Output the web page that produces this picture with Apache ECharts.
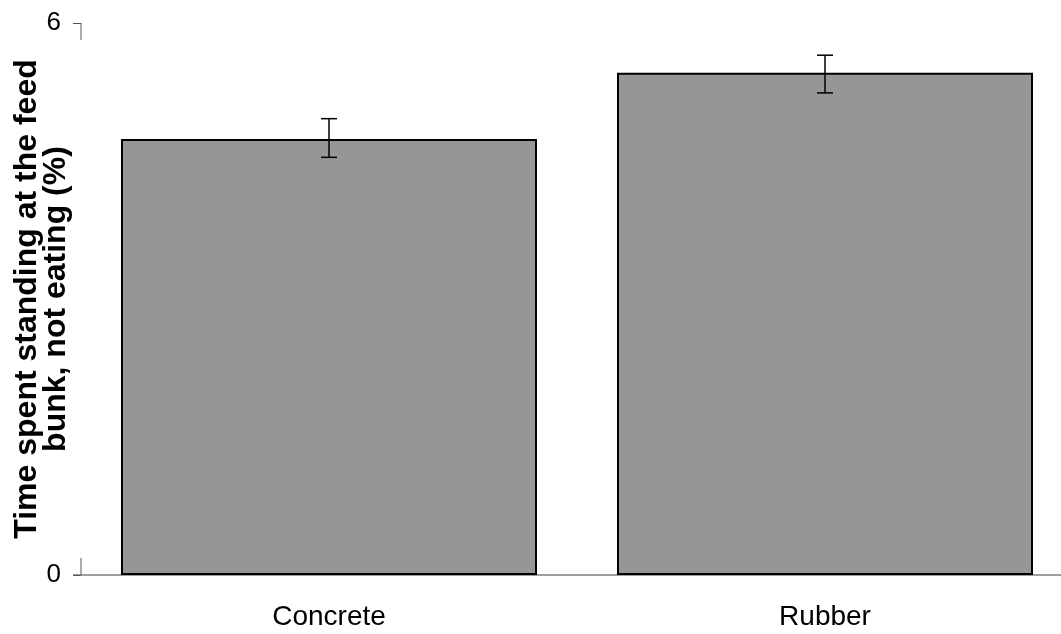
<!DOCTYPE html>
<html>
<head>
<meta charset="utf-8">
<script src="https://cdn.jsdelivr.net/npm/echarts@6/dist/echarts.min.js"></script>
<style>
  html, body { margin: 0; padding: 0; background: #fff; }
  #main { width: 1061px; height: 634px; }
</style>
</head>
<body>
<div id="main"></div>
<script>
var categories = ['Concrete', 'Rubber'];
var means = [4.74, 5.46];
var errLow = [4.54, 5.24];
var errHigh = [4.96, 5.65];
var yTicks = [0, 6];

var chartDom = document.getElementById('main');
var myChart = echarts.init(chartDom);

var errData = [];
for (var i = 0; i < categories.length; i++) {
    errData.push([i, errLow[i], errHigh[i]]);
}

var option = {
    animation: false,
    textStyle: { fontFamily: 'Liberation Sans' },
    grid: {
        left: 81,
        width: 992,
        top: 23,
        bottom: 59,
        containLabel: false,
        outerBoundsMode: 'none'
    },
    xAxis: {
        type: 'category',
        data: categories,
        axisLine: { lineStyle: { color: '#808080', width: 1.5 } },
        axisTick: { show: false },
        axisLabel: { color: '#000', fontSize: 28, margin: 28 }
    },
    yAxis: {
        type: 'value',
        min: yTicks[0],
        max: yTicks[1],
        interval: yTicks[1] - yTicks[0],
        name: 'Time spent standing at the feed\nbunk, not eating (%)',
        nameLocation: 'middle',
        nameGap: 10,
        nameMoveOverlap: false,
        nameTextStyle: { color: '#000', fontSize: 32, fontWeight: 'bold', lineHeight: 29 },
        axisLine: { show: false },
        axisTick: { show: true, length: 8, lineStyle: { color: '#555' } },
        splitLine: { show: false },
        axisLabel: { color: '#000', fontSize: 26, margin: 20 }
    },
    series: [
        {
            type: 'bar',
            data: means,
            barWidth: 416,
            itemStyle: { color: '#969696', borderColor: '#000', borderWidth: 2 }
        },
        {
            type: 'custom',
            data: errData,
            z: 10,
            renderItem: function (params, api) {
                var x = api.value(0);
                var lo = api.coord([x, api.value(1)]);
                var hi = api.coord([x, api.value(2)]);
                var half = 8;
                var style = { stroke: '#000', lineWidth: 1.5 };
                return {
                    type: 'group',
                    children: [
                        { type: 'line', shape: { x1: lo[0], y1: lo[1], x2: hi[0], y2: hi[1] }, style: style },
                        { type: 'line', shape: { x1: hi[0] - half, y1: hi[1], x2: hi[0] + half, y2: hi[1] }, style: style },
                        { type: 'line', shape: { x1: lo[0] - half, y1: lo[1], x2: lo[0] + half, y2: lo[1] }, style: style }
                    ]
                };
            }
        }
    ]
};

option && myChart.setOption(option);

// short axis stubs at both ends of the y axis, like the original
var pTop = myChart.convertToPixel({ yAxisIndex: 0 }, yTicks[1]);
var pBot = myChart.convertToPixel({ yAxisIndex: 0 }, yTicks[0]);
var axX = 81;
myChart.setOption({
    graphic: [
        { type: 'line', shape: { x1: axX, y1: pTop, x2: axX, y2: pTop + 17 }, style: { stroke: '#555', lineWidth: 1 } },
        { type: 'line', shape: { x1: axX, y1: pBot, x2: axX, y2: pBot - 17 }, style: { stroke: '#555', lineWidth: 1 } },
        { type: 'line', shape: { x1: axX - 8, y1: pBot, x2: axX, y2: pBot }, style: { stroke: '#808080', lineWidth: 1.5 } }
    ]
});
</script>
</body>
</html>
